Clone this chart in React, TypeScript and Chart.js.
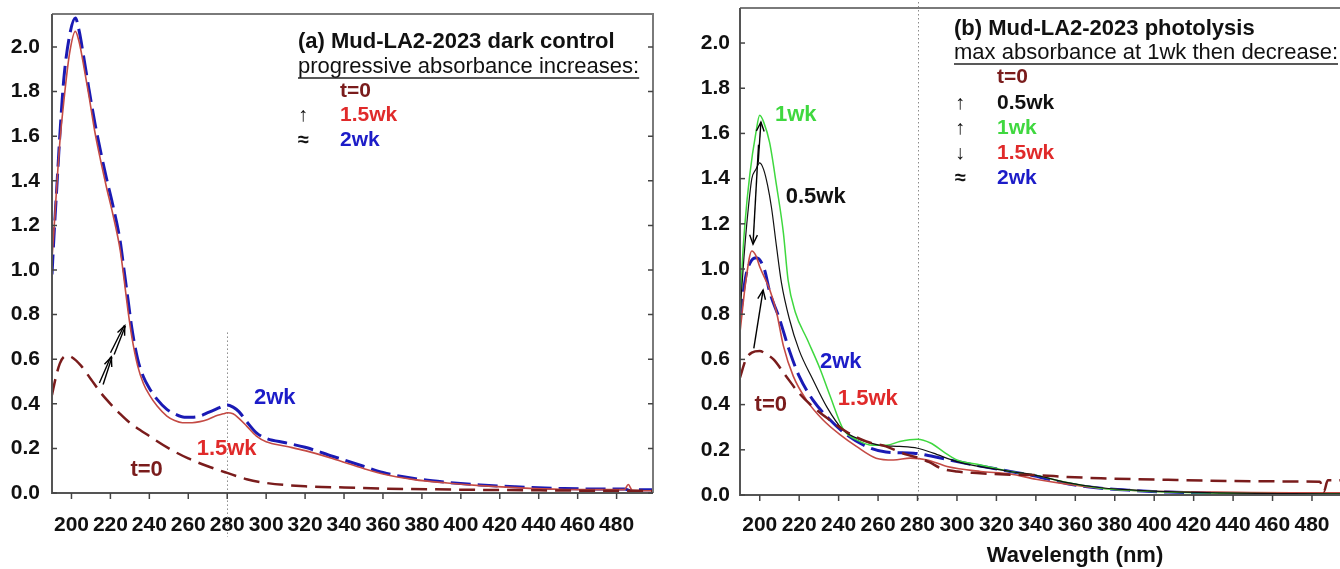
import React, { useEffect, useRef } from "react";
import { Chart, registerables } from "chart.js";
Chart.register(...registerables);

const FONT = "'Liberation Sans', Arial, sans-serif";

// ---- shared tick labels ----
const xTickValues = [200, 220, 240, 260, 280, 300, 320, 340, 360, 380, 400, 420, 440, 460, 480];
const yTickValues = [0, 0.2, 0.4, 0.6, 0.8, 1.0, 1.2, 1.4, 1.6, 1.8, 2.0];

// ---- colours ----
const C_T0 = "#7a1c1c";
const C_05 = "#111111";
const C_1 = "#3fd83f";
const C_15 = "#c44a44";
const C_15_TXT = "#e02a2a";
const C_2 = "#1a1ab4";
const C_2_TXT = "#1c1cc8";

// ---- panel (a): dark control ----
const aT0Wl = [190, 192, 194, 196, 198, 200, 205, 210, 215, 220, 225, 230, 240, 250, 260, 270, 280, 290, 300, 320, 340, 360, 400, 440, 480, 500];
const aT0Abs = [0.44, 0.52, 0.58, 0.61, 0.615, 0.61, 0.57, 0.51, 0.45, 0.4, 0.355, 0.315, 0.255, 0.2, 0.155, 0.12, 0.09, 0.062, 0.045, 0.03, 0.025, 0.02, 0.015, 0.012, 0.01, 0.01];

const a15Wl = [190, 191, 193, 194, 196, 199, 202, 204, 206, 209, 212, 215, 218, 221, 225, 227, 229, 231, 234, 237, 240, 244, 249, 253, 257, 262, 266, 270, 274, 278, 280, 283, 286, 290, 295, 300, 310, 320, 334, 350, 360, 376, 393, 410, 428, 453, 470, 484, 486, 488, 492, 500];
const a15Abs = [1.05, 1.18, 1.45, 1.57, 1.75, 1.97, 2.07, 2.02, 1.93, 1.78, 1.62, 1.49, 1.37, 1.26, 1.09, 0.96, 0.82, 0.7, 0.57, 0.49, 0.44, 0.39, 0.345, 0.325, 0.315, 0.315, 0.32, 0.33, 0.345, 0.355, 0.36, 0.355, 0.335, 0.3, 0.255, 0.23, 0.21, 0.19, 0.155, 0.11, 0.085, 0.06, 0.045, 0.033, 0.024, 0.016, 0.015, 0.015, 0.038, 0.012, 0.01, 0.01];

const a2Wl = [190, 191, 193, 194, 196, 199, 202, 204, 206, 209, 212, 215, 218, 221, 225, 227, 229, 231, 234, 237, 240, 244, 249, 253, 258, 262, 266, 270, 274, 278, 280, 283, 286, 290, 295, 300, 310, 320, 334, 350, 360, 376, 393, 410, 428, 453, 470, 484, 488, 490, 500];
const a2Abs = [0.98, 1.15, 1.45, 1.6, 1.85, 2.05, 2.13, 2.07, 1.97, 1.81, 1.66, 1.53, 1.41, 1.3, 1.13, 1.0, 0.87, 0.74, 0.6, 0.52, 0.47, 0.42, 0.375, 0.355, 0.34, 0.34, 0.345, 0.36, 0.375, 0.39, 0.395, 0.385, 0.365, 0.32, 0.27, 0.245, 0.225, 0.205, 0.165, 0.12, 0.092, 0.065, 0.048, 0.036, 0.028, 0.02, 0.018, 0.018, 0.008, 0.015, 0.015];

// ---- panel (b): photolysis ----
const bT0Wl = [190, 193, 196, 200, 203, 207, 213, 220, 227, 235, 244, 254, 264, 274, 281, 286, 292, 300, 310, 327, 340, 356, 373, 407, 441, 475, 484, 486, 488, 496];
const bT0Abs = [0.52, 0.6, 0.63, 0.637, 0.625, 0.6, 0.53, 0.45, 0.39, 0.335, 0.28, 0.237, 0.215, 0.18, 0.163, 0.145, 0.118, 0.104, 0.097, 0.09, 0.088, 0.08, 0.074, 0.067, 0.062, 0.06, 0.059, 0.015, 0.065, 0.065];

const b05Wl = [190, 192, 194, 196, 198, 200, 202, 204, 206, 208.5, 211, 215, 220, 227, 234, 242, 251, 261, 271, 280, 288, 300, 327, 339, 356, 373, 390, 407, 441, 470, 496];
const b05Abs = [0.8, 1.05, 1.25, 1.4, 1.44, 1.47, 1.44, 1.37, 1.27, 1.1, 0.94, 0.78, 0.64, 0.51, 0.39, 0.29, 0.245, 0.22, 0.215, 0.207, 0.185, 0.148, 0.104, 0.089, 0.055, 0.032, 0.022, 0.015, 0.008, 0.006, 0.005];

const b1Wl = [190, 191, 192.5, 195, 198, 200, 202, 205, 208.5, 212, 214.4, 218, 224, 230.5, 235.6, 242.4, 249, 257.6, 264.4, 271, 276, 280, 286.6, 293.4, 300, 312, 327, 339, 356, 373, 390, 407, 441, 470, 496];
const b1Abs = [0.78, 1.0, 1.2, 1.42, 1.6, 1.68, 1.65, 1.56, 1.37, 1.16, 0.95, 0.81, 0.69, 0.56, 0.44, 0.29, 0.245, 0.22, 0.22, 0.237, 0.245, 0.247, 0.23, 0.19, 0.155, 0.133, 0.104, 0.089, 0.055, 0.03, 0.02, 0.013, 0.007, 0.005, 0.005];

const b15Wl = [190, 193, 196, 198, 200, 205, 208.5, 212, 217, 223.7, 232, 240.7, 249, 259, 267.8, 276.4, 285, 295, 312, 327, 340, 356, 373, 390, 407, 441, 470, 496];
const b15Abs = [0.72, 0.95, 1.08, 1.06, 1.01, 0.91, 0.81, 0.66, 0.526, 0.42, 0.333, 0.267, 0.215, 0.163, 0.155, 0.163, 0.155, 0.126, 0.104, 0.093, 0.07, 0.048, 0.03, 0.02, 0.015, 0.012, 0.01, 0.01];

const b2Wl = [190, 193, 196, 198.3, 202.5, 205, 210, 215, 220, 227, 235.6, 244, 254, 264, 278, 288, 300, 327, 339, 356, 373, 390, 407, 441, 470, 496];
const b2Abs = [0.78, 0.97, 1.04, 1.05, 0.995, 0.9, 0.78, 0.64, 0.526, 0.42, 0.333, 0.267, 0.215, 0.19, 0.185, 0.17, 0.148, 0.104, 0.085, 0.05, 0.03, 0.02, 0.013, 0.006, 0.005, 0.005];

const pts = (xs: number[], ys: number[]) => xs.map((x, i) => ({ x, y: ys[i] }));

type Series = { label: string; xs: number[]; ys: number[]; color: string; width: number; dash: number[] };

const S_T0 = (xs: number[], ys: number[]): Series => ({ label: "t=0", xs, ys, color: C_T0, width: 2.5, dash: [16, 8] });
const S_15 = (xs: number[], ys: number[]): Series => ({ label: "1.5wk", xs, ys, color: C_15, width: 1.6, dash: [] });
const S_2 = (xs: number[], ys: number[]): Series => ({ label: "2wk", xs, ys, color: C_2, width: 3, dash: [20, 7] });

type Panel = {
  canvasW: number;
  xMax: number;
  yMax: number;
  axisW: number;
  axisH: number;
  padTop: number;
  padRight: number;
  yLabelPad: number;
  xLabelPad: number;
  rightBorder: boolean;
  series: Series[];
  title: string;
  subtitle: string;
  textX: number;
  titleY: number;
  subY: number;
  symX: number;
  legX: number;
  legend: { sym: string; text: string; color: string; y: number }[];
  labels: { text: string; color: string; x: number; y: number }[];
  arrows: { from: [number, number]; to: [number, number]; double: boolean }[];
  dotFromValue: number | null;
  dotTopPx: number;
  dotBelow: number;
  xTitle: string | null;
};

const panelA: Panel = {
  canvasW: 680,
  xMax: 498.7,
  yMax: 2.148,
  axisW: 52,
  axisH: 76,
  padTop: 14,
  padRight: 27,
  yLabelPad: 12,
  xLabelPad: 20,
  rightBorder: true,
  series: [S_T0(aT0Wl, aT0Abs), S_15(a15Wl, a15Abs), S_2(a2Wl, a2Abs)],
  title: "(a) Mud-LA2-2023 dark control",
  subtitle: "progressive absorbance increases:",
  textX: 298,
  titleY: 42,
  subY: 67,
  symX: 298,
  legX: 340,
  legend: [
    { sym: "", text: "t=0", color: C_T0, y: 91 },
    { sym: "↑", text: "1.5wk", color: C_15_TXT, y: 115 },
    { sym: "≈", text: "2wk", color: C_2_TXT, y: 140 },
  ],
  labels: [
    { text: "2wk", color: C_2_TXT, x: 304.4, y: 0.426 },
    { text: "1.5wk", color: C_15_TXT, x: 279.7, y: 0.197 },
    { text: "t=0", color: C_T0, x: 238.6, y: 0.103 },
  ],
  arrows: [
    { from: [215.3, 0.49], to: [220.5, 0.61], double: true },
    { from: [221, 0.625], to: [227.4, 0.75], double: true },
  ],
  dotFromValue: 0.72,
  dotTopPx: 0,
  dotBelow: 44,
  xTitle: null,
};

const panelB: Panel = {
  canvasW: 660,
  xMax: 494.2,
  yMax: 2.155,
  axisW: 60,
  axisH: 74,
  padTop: 8,
  padRight: 0,
  yLabelPad: 10,
  xLabelPad: 18,
  rightBorder: false,
  series: [
    S_T0(bT0Wl, bT0Abs),
    { label: "0.5wk", xs: b05Wl, ys: b05Abs, color: C_05, width: 1.2, dash: [] },
    { label: "1wk", xs: b1Wl, ys: b1Abs, color: C_1, width: 1.5, dash: [] },
    S_15(b15Wl, b15Abs),
    S_2(b2Wl, b2Abs),
  ],
  title: "(b) Mud-LA2-2023 photolysis",
  subtitle: "max absorbance at 1wk then decrease:",
  textX: 274,
  titleY: 29,
  subY: 53,
  symX: 275,
  legX: 317,
  legend: [
    { sym: "", text: "t=0", color: C_T0, y: 77 },
    { sym: "↑", text: "0.5wk", color: C_05, y: 103 },
    { sym: "↑", text: "1wk", color: C_1, y: 128 },
    { sym: "↓", text: "1.5wk", color: C_15_TXT, y: 153 },
    { sym: "≈", text: "2wk", color: C_2_TXT, y: 178 },
  ],
  labels: [
    { text: "1wk", color: C_1, x: 218.3, y: 1.68 },
    { text: "0.5wk", color: C_05, x: 228.4, y: 1.32 },
    { text: "2wk", color: C_2_TXT, x: 241.1, y: 0.588 },
    { text: "1.5wk", color: C_15_TXT, x: 254.8, y: 0.425 },
    { text: "t=0", color: C_T0, x: 205.6, y: 0.398 },
  ],
  arrows: [
    { from: [199.2, 1.47], to: [200.6, 1.65], double: false },
    { from: [199.4, 1.55], to: [196.6, 1.11], double: false },
    { from: [197.0, 0.649], to: [201.7, 0.907], double: false },
  ],
  dotFromValue: null,
  dotTopPx: 2,
  dotBelow: 6,
  xTitle: "Wavelength (nm)",
};

function arrowHead(ctx: CanvasRenderingContext2D, x1: number, y1: number, x2: number, y2: number, len: number) {
  const ang = Math.atan2(y2 - y1, x2 - x1);
  ctx.beginPath();
  ctx.moveTo(x2 - len * Math.cos(ang - 0.4), y2 - len * Math.sin(ang - 0.4));
  ctx.lineTo(x2, y2);
  ctx.lineTo(x2 - len * Math.cos(ang + 0.4), y2 - len * Math.sin(ang + 0.4));
  ctx.stroke();
}

function makePlugin(p: Panel) {
  return {
    id: "panelDeco",
    beforeDatasetsDraw(chart: any) {
      const { ctx, chartArea, scales } = chart;
      const x = scales.x, y = scales.y;
      ctx.save();
      const px = Math.round(x.getPixelForValue(280)) + 0.5;
      const top = p.dotFromValue !== null ? y.getPixelForValue(p.dotFromValue) : p.dotTopPx;
      ctx.strokeStyle = "#8a8a8a";
      ctx.lineWidth = 1;
      ctx.setLineDash([1.5, 2.5]);
      ctx.beginPath();
      ctx.moveTo(px, top);
      ctx.lineTo(px, chartArea.bottom + p.dotBelow);
      ctx.stroke();
      ctx.restore();
    },
    afterDatasetsDraw(chart: any) {
      const { ctx, chartArea, scales } = chart;
      const { left, right, top, bottom } = chartArea;
      const x = scales.x, y = scales.y;
      ctx.save();
      // frame
      ctx.setLineDash([]);
      ctx.lineWidth = 2;
      ctx.strokeStyle = "#7a7a7a";
      ctx.beginPath();
      ctx.moveTo(left, top);
      ctx.lineTo(right, top);
      if (p.rightBorder) ctx.lineTo(right, bottom);
      ctx.stroke();
      ctx.strokeStyle = "#555";
      ctx.beginPath();
      ctx.moveTo(left, top);
      ctx.lineTo(left, bottom);
      ctx.lineTo(right, bottom);
      ctx.stroke();
      // ticks
      ctx.lineWidth = 1.5;
      ctx.strokeStyle = "#444";
      for (const v of yTickValues) {
        const py = y.getPixelForValue(v);
        ctx.beginPath();
        ctx.moveTo(left, py);
        ctx.lineTo(left + 5, py);
        if (p.rightBorder) {
          ctx.moveTo(right, py);
          ctx.lineTo(right - 5, py);
        }
        ctx.stroke();
      }
      for (const v of xTickValues) {
        const px = x.getPixelForValue(v);
        ctx.beginPath();
        ctx.moveTo(px, bottom);
        ctx.lineTo(px, bottom + 6);
        ctx.stroke();
      }
      // arrows
      ctx.strokeStyle = "#000";
      ctx.lineWidth = 1.4;
      for (const a of p.arrows) {
        const x1 = x.getPixelForValue(a.from[0]), y1 = y.getPixelForValue(a.from[1]);
        const x2 = x.getPixelForValue(a.to[0]), y2 = y.getPixelForValue(a.to[1]);
        if (a.double) {
          const ang = Math.atan2(y2 - y1, x2 - x1);
          const ox = -Math.sin(ang) * 2, oy = Math.cos(ang) * 2;
          for (const s of [-1, 1]) {
            ctx.beginPath();
            ctx.moveTo(x1 + s * ox, y1 + s * oy);
            ctx.lineTo(x2 + s * ox * 0.3, y2 + s * oy * 0.3);
            ctx.stroke();
          }
          arrowHead(ctx, x1, y1, x2, y2, 10);
        } else {
          ctx.beginPath();
          ctx.moveTo(x1, y1);
          ctx.lineTo(x2, y2);
          ctx.stroke();
          arrowHead(ctx, x1, y1, x2, y2, 10);
        }
      }
      // in-plot labels
      ctx.textBaseline = "middle";
      ctx.textAlign = "center";
      ctx.font = `bold 22px ${FONT}`;
      for (const l of p.labels) {
        ctx.fillStyle = l.color;
        ctx.fillText(l.text, x.getPixelForValue(l.x), y.getPixelForValue(l.y));
      }
      // title block
      ctx.textAlign = "left";
      ctx.fillStyle = "#111";
      ctx.font = `bold 22px ${FONT}`;
      ctx.fillText(p.title, p.textX, p.titleY);
      ctx.font = `22px ${FONT}`;
      ctx.fillText(p.subtitle, p.textX, p.subY);
      const w = ctx.measureText(p.subtitle).width;
      ctx.strokeStyle = "#222";
      ctx.lineWidth = 1.3;
      ctx.beginPath();
      ctx.moveTo(p.textX, p.subY + 11);
      ctx.lineTo(p.textX + w, p.subY + 11);
      ctx.stroke();
      for (const r of p.legend) {
        if (r.sym) {
          ctx.font = `bold 20px ${FONT}`;
          ctx.fillStyle = "#111";
          ctx.fillText(r.sym, p.symX, r.y);
        }
        ctx.font = `bold 21px ${FONT}`;
        ctx.fillStyle = r.color;
        ctx.fillText(r.text, p.legX, r.y);
      }
      if (p.xTitle) {
        ctx.font = `bold 22px ${FONT}`;
        ctx.fillStyle = "#111";
        ctx.textAlign = "center";
        ctx.fillText(p.xTitle, 395, 556);
      }
      ctx.restore();
    },
  };
}

function buildConfig(p: Panel): any {
  return {
    type: "line",
    data: {
      datasets: p.series.map((s) => ({
        label: s.label,
        data: pts(s.xs, s.ys),
        borderColor: s.color,
        backgroundColor: s.color,
        borderWidth: s.width,
        borderDash: s.dash,
        pointRadius: 0,
        fill: false,
        cubicInterpolationMode: "monotone",
      })),
    },
    options: {
      responsive: false,
      animation: false,
      events: [],
      layout: { padding: { top: p.padTop, right: p.padRight, left: 0, bottom: 0 } },
      plugins: { legend: { display: false }, tooltip: { enabled: false }, title: { display: false } },
      scales: {
        x: {
          type: "linear",
          min: 190,
          max: p.xMax,
          afterBuildTicks: (s: any) => {
            s.ticks = xTickValues.map((v) => ({ value: v }));
          },
          afterFit: (s: any) => {
            s.height = p.axisH;
            s.paddingLeft = 0;
            s.paddingRight = 0;
            s.paddingTop = 0;
            s.paddingBottom = 0;
          },
          grid: { display: false, drawTicks: false },
          border: { display: false },
          ticks: {
            autoSkip: false,
            maxRotation: 0,
            minRotation: 0,
            padding: p.xLabelPad,
            color: "#111",
            font: { family: FONT, size: 21, weight: "bold" },
            callback: (v: number) => String(v),
          },
        },
        y: {
          type: "linear",
          min: 0,
          max: p.yMax,
          afterBuildTicks: (s: any) => {
            s.ticks = yTickValues.map((v) => ({ value: v }));
          },
          afterFit: (s: any) => {
            s.width = p.axisW;
            s.paddingLeft = 0;
            s.paddingRight = 0;
            s.paddingTop = 0;
            s.paddingBottom = 0;
          },
          grid: { display: false, drawTicks: false },
          border: { display: false },
          ticks: {
            padding: p.yLabelPad,
            color: "#111",
            font: { family: FONT, size: 21, weight: "bold" },
            callback: (v: number) => Number(v).toFixed(1),
          },
        },
      },
    },
    plugins: [makePlugin(p)],
  };
}

export default function App() {
  const aRef = useRef<HTMLCanvasElement>(null);
  const bRef = useRef<HTMLCanvasElement>(null);
  useEffect(() => {
    const ca = new Chart(aRef.current as HTMLCanvasElement, buildConfig(panelA));
    const cb = new Chart(bRef.current as HTMLCanvasElement, buildConfig(panelB));
    return () => {
      ca.destroy();
      cb.destroy();
    };
  }, []);
  return (
    <div style={{ position: "fixed", left: 0, top: 0, width: 1340, height: 569, background: "#fff", overflow: "hidden" }}>
      <canvas ref={aRef} width={680} height={569} style={{ position: "absolute", left: 0, top: 0, width: 680, height: 569 }} />
      <canvas ref={bRef} width={660} height={569} style={{ position: "absolute", left: 680, top: 0, width: 660, height: 569 }} />
    </div>
  );
}
